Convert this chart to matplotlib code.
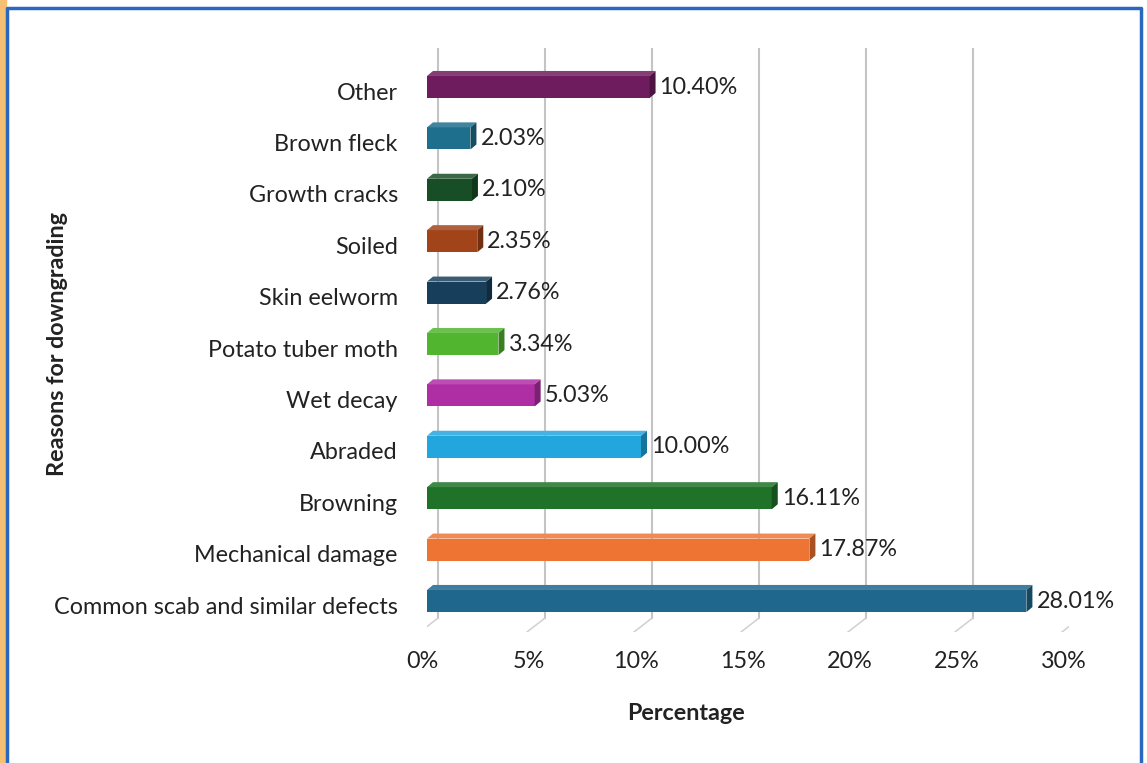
import matplotlib
matplotlib.use("Agg")
import matplotlib.pyplot as plt
from matplotlib.patches import Polygon, Rectangle
import matplotlib.transforms as mtransforms

# data, bottom to top
categories = ['Common scab and similar defects', 'Mechanical damage', 'Browning',
              'Abraded', 'Wet decay', 'Potato tuber moth', 'Skin eelworm',
              'Soiled', 'Growth cracks', 'Brown fleck', 'Other']
values = [28.01, 17.87, 16.11, 10.00, 5.03, 3.34, 2.76, 2.35, 2.10, 2.03, 10.40]
colors = ['#1F678C', '#EE7433', '#1E7328', '#23A6DE', '#B02EA4', '#52B530',
          '#173F5B', '#A2441A', '#184E26', '#1E6E8E', '#6E1C5E']
xticks = [0, 5, 10, 15, 20, 25, 30]
xticklabels = ['0%', '5%', '10%', '15%', '20%', '25%', '30%']

plt.rcParams['font.family'] = ['Lato', 'DejaVu Sans']
FS = 16.8
W, H = 1147, 763
fig = plt.figure(figsize=(W / 100, H / 100), dpi=100)
fig.patch.set_facecolor('white')

# frame and orange strip on the left
fig.add_artist(Rectangle((0, 0), 6 / W, 1, transform=fig.transFigure,
                         color='#F6C074', zorder=0))
fig.add_artist(plt.Line2D([7 / W, 7 / W, 1141 / W, 1141 / W], [0, 1 - 8 / H, 1 - 8 / H, 0],
                          transform=fig.transFigure, color='#2A68C0', lw=2.5))

ax = fig.add_axes([427 / W, 1 - 632 / H, 642 / W, 584 / H])
ax.set_xlim(0, 30)
ax.set_ylim(-0.603, 10.759)
for s in ax.spines.values():
    s.set_visible(False)
ax.set_facecolor('none')

pxx = 642 / 30.0      # pixels per percent
pxy = 584 / 11.362    # pixels per category
dx, dy = 6 / pxx, 5 / pxy

# back gridlines with small floor segments
for t in xticks:
    xb = t + 11 / pxx
    xf = t - 7 / pxx
    ax.plot([xb, xb], [10.759, -0.603 + 14 / pxy], color='#C4C4C4', lw=1.5, zorder=1)
    ax.plot([xb, xf], [-0.603 + 14 / pxy, -0.603], color='#D0D0D0', lw=1.1, zorder=1)

h = 0.43
ypos = list(range(len(categories)))
bars = ax.barh(ypos, values, height=h, color=colors, zorder=3, edgecolor='none')


def shade(c, f):
    r, g, b = matplotlib.colors.to_rgb(c)
    if f < 1:
        return (r * f, g * f, b * f)
    return (r + (1 - r) * (f - 1), g + (1 - g) * (f - 1), b + (1 - b) * (f - 1))


for y, v, c in zip(ypos, values, colors):
    top = y + h / 2
    bot = y - h / 2
    ax.add_patch(Polygon([(0, top), (v, top), (v + dx, top + dy), (dx, top + dy)],
                         closed=True, color=shade(c, 1.15), zorder=3, lw=0))
    ax.add_patch(Polygon([(v, bot), (v + dx, bot + dy), (v + dx, top + dy), (v, top)],
                         closed=True, color=shade(c, 0.7), zorder=3, lw=0))
    ax.text(v + dx + 4 / pxx, y, f'{v:.2f}%', va='center', ha='left',
            fontsize=FS, color='#222222', zorder=4)

ax.set_yticks(ypos)
ax.set_yticklabels(categories, fontsize=FS, color='#222222')
ax.tick_params(axis='y', length=0, pad=21)
yoff = mtransforms.ScaledTranslation(0, -4 / 100, fig.dpi_scale_trans)
for lab in ax.get_yticklabels():
    lab.set_transform(lab.get_transform() + yoff)
ax.set_xticks(xticks)
ax.set_xticklabels(xticklabels, fontsize=FS, color='#222222')
ax.tick_params(axis='x', length=0, pad=14)
off = mtransforms.ScaledTranslation(-5 / 100, 0, fig.dpi_scale_trans)
for lab in ax.get_xticklabels():
    lab.set_transform(lab.get_transform() + off)

fig.text(686 / W, 1 - 713 / H, 'Percentage', ha='center', va='center',
         fontsize=FS, fontweight='bold', color='#222222')
fig.text(57 / W, 1 - 344 / H, 'Reasons for downgrading', ha='center', va='center',
         rotation=90, fontsize=FS, fontweight='bold', color='#222222')

fig.savefig('out.png', dpi=100)
